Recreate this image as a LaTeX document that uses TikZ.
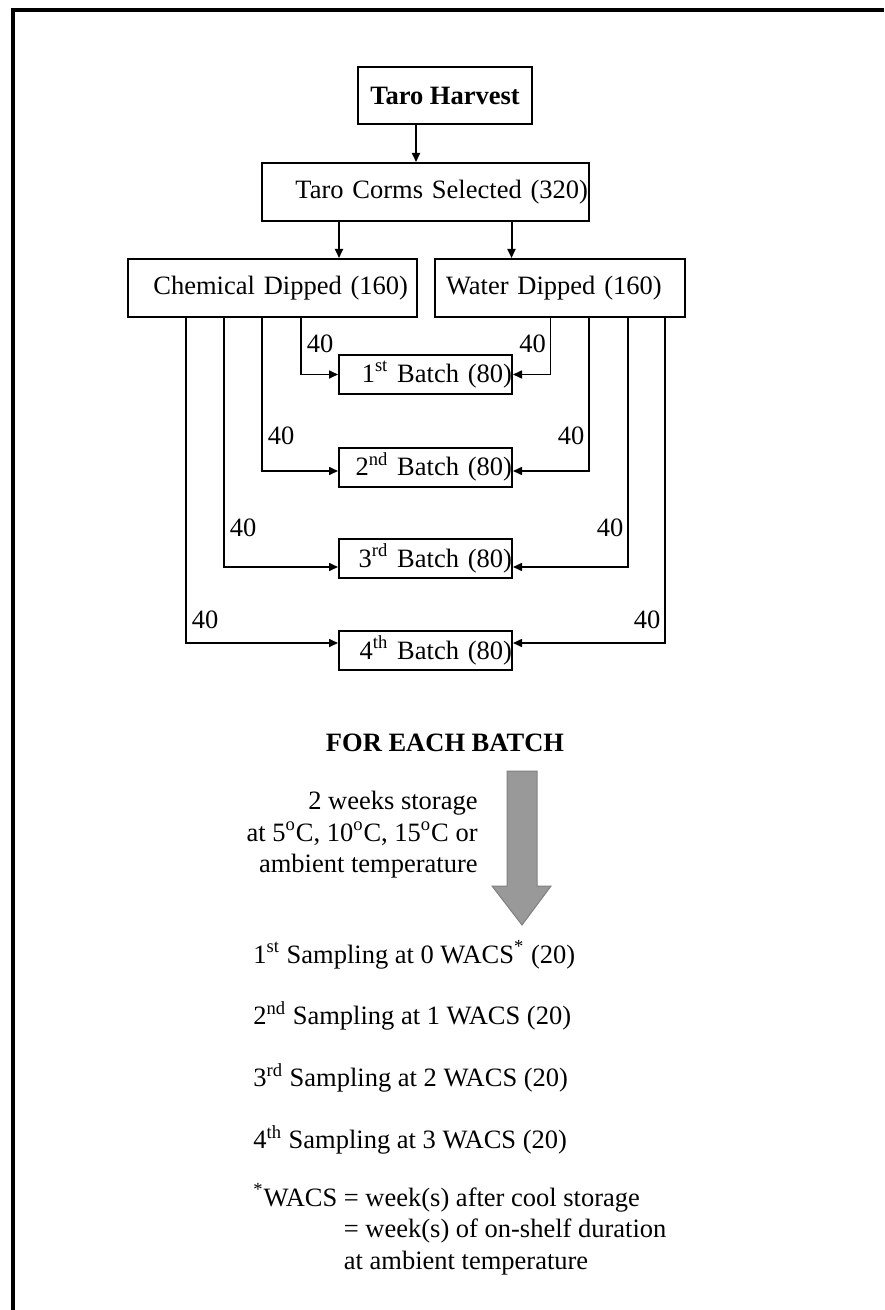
\documentclass[tikz,border=0pt]{standalone}
\usepackage{fontspec}
\setmainfont{Liberation Serif}
\usepackage{tikz}
\usetikzlibrary{positioning, arrows.meta}

\newcommand{\flowsize}{\fontsize{13.25}{15.75}\selectfont}

\begin{document}
\begin{tikzpicture}[x=0.5pt, y=-0.5pt, font=\flowsize,
    box/.style={draw, line width=1pt, inner ysep=0pt, minimum height=29pt},
    batchbox/.style={draw, line width=1pt, inner sep=0pt, minimum height=19.5pt, text width=86.5pt, align=right},
    arr/.style={line width=1pt, -{Triangle[length=4.5pt, width=4pt]}},
    feed/.style={line width=0.8pt, -{Triangle[length=4.5pt, width=4pt]}},
    txt/.style={inner sep=0pt}]

    % Page frame (open at right and bottom)
    \useasboundingbox (0,0) rectangle (884,1310);
    \draw[line width=2pt] (884,10) -- (13,10) -- (13,1310);

    % Top of the tree
    \node[box, font=\flowsize\bfseries, minimum width=87pt, minimum height=28.5pt] (harvest) at (445,95.5) {Taro Harvest};
    \node[box, text width=162.5pt, inner xsep=0.5pt, align=right] (corms) at (425.5,192) {Taro Corms Selected (320)};
    \node[box, text width=135.5pt, inner xsep=4.5pt, align=right] (chem) at (272.5,288) {Chemical Dipped (160)};
    \node[box, text width=114pt, inner xsep=5.5pt, align=left] (water) at (560,288) {Water Dipped (160)};

    \draw[arr] ([xshift=-4.75pt]corms.north |- harvest.south) -- ([xshift=-4.75pt]corms.north);
    \draw[arr] ([xshift=-43.25pt]corms.south) -- ([xshift=-43.25pt]corms.south |- chem.north);
    \draw[arr] ([xshift=43pt]corms.south) -- ([xshift=43pt]corms.south |- water.north);

    % Batches
    \foreach \i/\y/\ord in {1/374.5/st, 2/467/nd, 3/558.5/rd, 4/650.5/th}
        \node[batchbox] (b\i) at (425.5,\y) {\i\textsuperscript{\ord} Batch (80)};

    % Feed lines, 40 corms each
    \foreach \i/\lx/\rx/\ly/\dy in {1/301/550.5/344/0pt, 2/262/589/436/-2pt, 3/224/628/528/-4.25pt, 4/186/665/620/3.75pt} {
        \coordinate (l\i) at (\lx,0);
        \coordinate (r\i) at (\rx,0);
        \draw[feed] (chem.south -| l\i) |- ([yshift=\dy]b\i.west);
        \draw[feed] (water.south -| r\i) |- ([yshift=\dy]b\i.east);
        \node[txt] (nl\i) at (\lx+19,\ly) {40};
        \node[txt] (nr\i) at (\rx-18,\ly) {40};
    }

    % Storage step
    \node[txt, font=\flowsize\bfseries] (each) at (445,743) {FOR EACH BATCH};
    \filldraw[fill=black!40, draw=black!50, line width=0.5pt]
        (507,771) -- (537,771) -- (537,886) -- (551,886) -- (522,925) -- (492,886) -- (507,886) -- cycle;
    \node[txt, align=right, anchor=east] (store) at (478,835)
        {2 weeks storage\\at 5\textsuperscript{o}C, 10\textsuperscript{o}C, 15\textsuperscript{o}C or\\ambient temperature};

    % Samplings
    \node[txt, anchor=west] (s1) at (253,955) {1\textsuperscript{st} Sampling at 0 WACS\textsuperscript{*} (20)};
    \node[txt, anchor=west] (s2) at (253,1016) {2\textsuperscript{nd} Sampling at 1 WACS (20)};
    \node[txt, anchor=west] (s3) at (253,1078) {3\textsuperscript{rd} Sampling at 2 WACS (20)};
    \node[txt, anchor=west] (s4) at (253,1140) {4\textsuperscript{th} Sampling at 3 WACS (20)};

    \node[txt, anchor=west] (note) at (253,1231)
        {\begin{tabular}{@{}l@{ }l@{}}
            \textsuperscript{*}WACS & = week(s) after cool storage\\
                                    & = week(s) of on-shelf duration\\
                                    & at ambient temperature
         \end{tabular}};
\end{tikzpicture}
\end{document}
